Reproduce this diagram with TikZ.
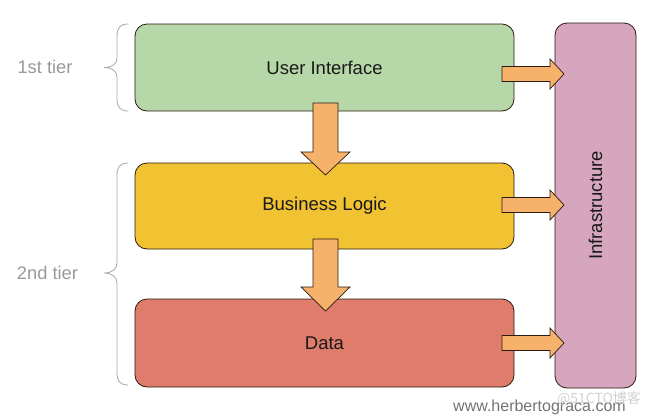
\documentclass[tikz,border=0pt]{standalone}
\usepackage{fontspec}
\setmainfont{Liberation Sans}
\newfontfamily\cjk{Noto Sans CJK SC}
\definecolor{uic}{HTML}{B6D7A8}
\definecolor{blc}{HTML}{F1C232}
\definecolor{datac}{HTML}{DF7C6B}
\definecolor{infrac}{HTML}{D5A6BD}
\definecolor{arrowc}{HTML}{F6B26B}
\definecolor{edgec}{HTML}{2A1A10}
\begin{document}
\begin{tikzpicture}[x=1pt,y=-1pt,
  tierbox/.style={draw=edgec, line width=0.8pt, rounded corners=12pt, inner sep=0pt,
    font=\fontsize{18.5}{22}\selectfont, text=black!90},
  blockarrow/.style={draw=edgec, line width=0.7pt, fill=arrowc, line join=miter},
  tierlabel/.style={text=black!40, font=\fontsize{18.3}{22}\selectfont, inner sep=0pt},
  bracestyle/.style={draw=black!35, line width=0.8pt, line cap=round}]
\useasboundingbox (0,0) rectangle (654,418);

% boxes
\node[tierbox, fill=uic, minimum width=379pt, minimum height=87pt] (ui) at (324.5,67.5) {User Interface};
\node[tierbox, fill=blc, minimum width=379pt, minimum height=86pt] (bl) at (324.5,206) {Business Logic};
\node[tierbox, fill=datac, minimum width=379pt, minimum height=88pt] (data) at (324.5,343) {Data};
\node[tierbox, fill=infrac, minimum width=81pt, minimum height=365pt] (infra) at (595.5,205.5) {};
\node[rotate=90, font=\fontsize{18.5}{22}\selectfont, text=black!90, inner sep=0pt] (infratext) at (infra.center) {Infrastructure};

% down block arrows
\draw[blockarrow] (313,103) -- (338,103) -- (338,152) -- (350,152) -- (325.5,175)
  -- (301,152) -- (313,152) -- cycle;
\draw[blockarrow] (313,239) -- (338,239) -- (338,287) -- (350,287) -- (325.5,311)
  -- (301,287) -- (313,287) -- cycle;

% right block arrows
\foreach \yc in {74,205,343}{
  \draw[blockarrow] (502,\yc-7.5) -- (550,\yc-7.5) -- (550,\yc-15) -- (564,\yc)
    -- (550,\yc+15) -- (550,\yc+7.5) -- (502,\yc+7.5) -- cycle;
}

% braces
\coordinate (b1top) at (128,24);
\coordinate (b1bot) at (128,111);
\coordinate (b1tip) at (104,67.5);
\draw[bracestyle] (b1top) .. controls (120,24) and (117,28) .. (117,36) -- (117,58)
  .. controls (117,64) and (112,67.5) .. (b1tip)
  .. controls (112,67.5) and (117,71) .. (117,77) -- (117,99)
  .. controls (117,107) and (120,111) .. (b1bot);
\coordinate (b2top) at (128,163);
\coordinate (b2bot) at (128,385);
\coordinate (b2tip) at (104,273);
\draw[bracestyle] (b2top) .. controls (120,163) and (117,167) .. (117,175) -- (117,263)
  .. controls (117,269) and (112,273) .. (b2tip)
  .. controls (112,273) and (117,277) .. (117,283) -- (117,373)
  .. controls (117,381) and (120,385) .. (b2bot);

% tier labels
\node[tierlabel] (t1) at (45,67) {1st tier};
\node[tierlabel] (t2) at (47.5,273) {2nd tier};

% watermark
\node[text=black!55, font=\fontsize{16}{18}\selectfont, inner sep=0pt] (web) at (539.5,407) {www.herbertograca.com};
\node[text=black!18, font=\cjk\fontsize{14}{16}\selectfont, inner sep=0pt] (wm) at (599,399) {@51CTO博客};
\end{tikzpicture}
\end{document}
